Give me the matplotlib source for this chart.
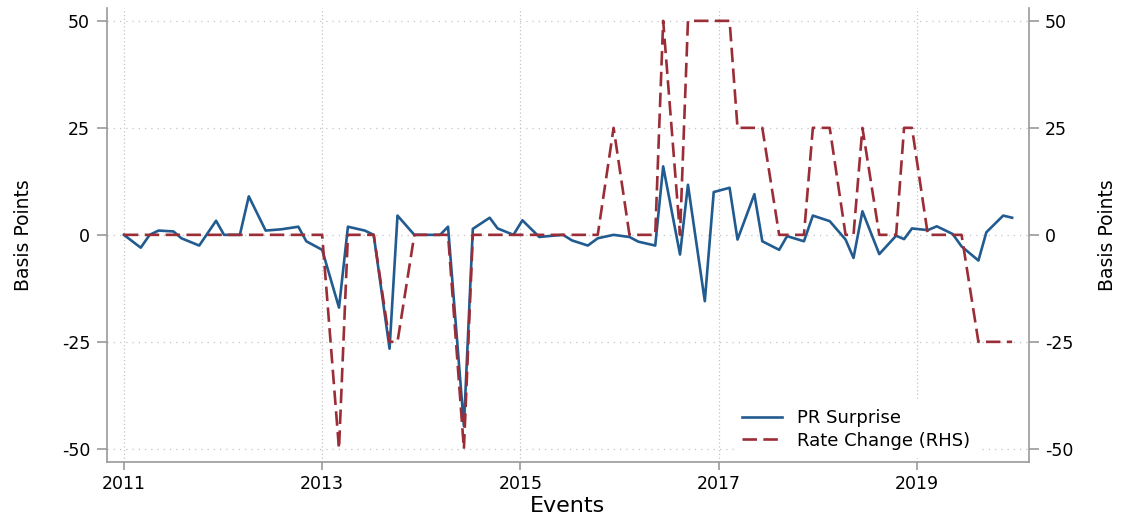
import matplotlib.pyplot as plt

# Policy announcement events (decimal years)
event_dates = [
    2011.00, 2011.17, 2011.26, 2011.35, 2011.50, 2011.58, 2011.76, 2011.93,
    2012.01, 2012.17, 2012.26, 2012.43, 2012.59, 2012.76, 2012.84,
    2013.00, 2013.17, 2013.26, 2013.43, 2013.52, 2013.68, 2013.76, 2013.93,
    2014.19, 2014.27, 2014.43, 2014.52, 2014.69, 2014.77, 2014.93,
    2015.02, 2015.19, 2015.28, 2015.43, 2015.52, 2015.68, 2015.78, 2015.94,
    2016.10, 2016.19, 2016.36, 2016.44, 2016.61, 2016.69, 2016.86, 2016.95,
    2017.11, 2017.19, 2017.36, 2017.44, 2017.61, 2017.69, 2017.86, 2017.95,
    2018.12, 2018.28, 2018.36, 2018.45, 2018.62, 2018.79, 2018.87, 2018.95,
    2019.11, 2019.20, 2019.36, 2019.45, 2019.62, 2019.70, 2019.87, 2019.96,
]

# Surprise component of each decision (bp)
pr_surprise = [
    0, -3.0, 0, 1.0, 0.8, -0.8, -2.5, 3.3,
    0, 0, 9.0, 1.0, 1.3, 1.9, -1.5,
    -3.5, -17.0, 1.9, 1.0, 0, -26.6, 4.5, 0,
    0, 1.9, -44.7, 1.4, 4.0, 1.5, 0,
    3.4, -0.5, -0.3, 0, -1.3, -2.5, -0.8, 0,
    -0.5, -1.6, -2.5, 16.0, -4.6, 11.7, -15.5, 10.0,
    11.0, -1.1, 9.5, -1.5, -3.5, -0.3, -1.5, 4.5,
    3.2, -1.1, -5.4, 5.5, -4.5, -0.2, -1.0, 1.5,
    1.1, 2.0, 0.2, -2.7, -6.0, 0.6, 4.5, 4.0,
]

# Actual change in the policy rate (bp)
rate_change = [
    0, 0, 0, 0, 0, 0, 0, 0,
    0, 0, 0, 0, 0, 0, 0,
    0, -50, 0, 0, 0, -25, -25, 0,
    0, 0, -50, 0, 0, 0, 0,
    0, 0, 0, 0, 0, 0, 0, 25,
    0, 0, 0, 50, 0, 50, 50, 50,
    50, 25, 25, 25, 0, 0, 0, 25,
    25, 0, 0, 25, 0, 0, 25, 25,
    0, 0, 0, 0, -25, -25, -25, -25,
]

year_ticks = [2011, 2013, 2015, 2017, 2019]
bp_ticks = [-50, -25, 0, 25, 50]

BLUE = '#215b8f'
RED = '#9b2d37'
AXIS_GRAY = '#9a9a9a'

plt.rcParams['axes.unicode_minus'] = False


def style_axis(axis):
    for side in ['top', 'left', 'right', 'bottom']:
        axis.spines[side].set_visible(False)
    axis.set_ylim(-53, 53)
    axis.set_yticks(bp_ticks)
    axis.set_xlim(2010.83, 2020.13)
    axis.set_xticks(year_ticks)


def plot():
    fig = plt.figure(figsize=(11.29, 5.17), dpi=100)
    ax = fig.add_axes([0.0948, 0.107, 0.8166, 0.8775])
    ax2 = ax.twinx()
    style_axis(ax)
    style_axis(ax2)

    ax.spines['left'].set_visible(True)
    ax.spines['bottom'].set_visible(True)
    ax2.spines['right'].set_visible(True)
    for sp in [ax.spines['left'], ax.spines['bottom'], ax2.spines['right']]:
        sp.set_color(AXIS_GRAY)
        sp.set_linewidth(1.2)

    # dotted grid behind everything
    ax.grid(axis='y', color='#c4c4c4', linestyle=(0, (1, 4)), linewidth=0.9)
    ax.grid(axis='x', color='#c4c4c4', linestyle=(0, (1, 2)), linewidth=0.9)
    ax.set_axisbelow(True)

    l1, = ax.plot(event_dates, pr_surprise, color=BLUE, linewidth=1.9,
                  label='PR Surprise')
    l2, = ax2.plot(event_dates, rate_change, color=RED, linewidth=1.9,
                   linestyle=(0, (5.5, 2.4)), label='Rate Change (RHS)')

    ax.tick_params(axis='y', length=7.2, width=1.2, color=AXIS_GRAY,
                   labelsize=12.5, pad=5)
    ax.tick_params(axis='x', length=5.8, width=1.2, color=AXIS_GRAY,
                   labelsize=12.5, pad=3.5)
    ax2.tick_params(axis='y', length=7.2, width=1.2, color=AXIS_GRAY,
                    labelsize=12.5, pad=4.3)
    ax2.tick_params(axis='x', bottom=False, labelbottom=False)

    ax.set_ylabel('Basis Points', fontsize=13.5)
    ax.yaxis.set_label_coords(-0.0803, 0.5)
    ax2.set_ylabel('Basis Points', fontsize=13.5)
    ax2.yaxis.set_label_coords(1.0748, 0.5)
    ax.set_xlabel('Events', fontsize=16)
    ax.xaxis.set_label_coords(0.5, -0.076)

    leg = ax2.legend(handles=[l1, l2], loc='upper left',
                     bbox_to_anchor=(0.650, 0.2242),
                     bbox_transform=fig.transFigure, borderaxespad=0,
                     borderpad=0.45, fontsize=13, handlelength=2.2,
                     handletextpad=0.85, labelspacing=0.25,
                     frameon=True, fancybox=False)
    leg.get_frame().set_edgecolor('none')
    leg.get_frame().set_facecolor('white')
    leg.get_frame().set_alpha(1)

    fig.savefig('out.png', dpi=100)


plot()
